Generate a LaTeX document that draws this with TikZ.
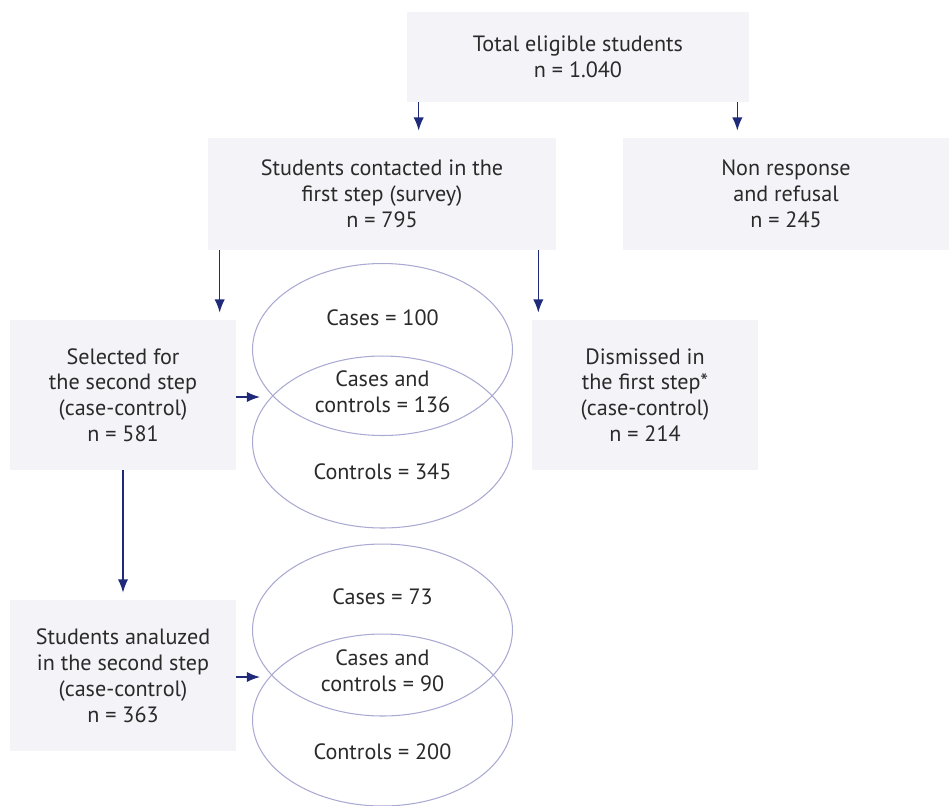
\documentclass[tikz,border=0pt]{standalone}
\usepackage{fontspec}
\setmainfont{PT Sans}
\usepackage{xcolor}
\usetikzlibrary{arrows.meta,positioning,shapes.geometric}
\definecolor{boxfill}{HTML}{F3F3F8}
\definecolor{navy}{HTML}{1F2A7A}
\definecolor{lavender}{HTML}{A9A9D2}
\definecolor{ink}{HTML}{2A2A2A}

\begin{document}
\begin{tikzpicture}[
    x=0.02cm, y=-0.02cm,
    every node/.style={text=ink, font=\fontsize{12.6}{14.7}\selectfont, align=center},
    stage/.style={fill=boxfill, inner sep=0pt},
    venn/.style={ellipse, draw=lavender, line width=0.6pt, minimum width=5.2cm, minimum height=3.44cm, inner sep=0pt},
    arr/.style={draw=navy, line width=0.8pt, -{Latex[length=7.5pt,width=5.8pt]}}
]
\useasboundingbox (0,0) rectangle (949,805);

\node[stage, minimum width=6.84cm, minimum height=1.8cm] (total) at (578,57) {Total eligible students\\n = 1.040};
\node[stage, minimum width=6.96cm, minimum height=2.24cm] (contacted) at (382,194) {Students contacted in the\\first step (survey)\\n = 795};
\node[stage, minimum width=6.52cm, minimum height=2.24cm] (nonresp) at (786,194) {Non response\\and refusal\\n = 245};
\node[stage, minimum width=4.52cm, minimum height=3cm] (selected) at (123,395) {Selected for\\the second step\\(case-control)\\n = 581};
\node[stage, minimum width=4.52cm, minimum height=3cm] (dismissed) at (645,395) {Dismissed in\\the first step*\\(case-control)\\n = 214};
\node[stage, minimum width=4.52cm, minimum height=3.02cm] (analyzed) at (123,675.5) {Students analuzed\\in the second step\\(case-control)\\n = 363};

% Venn pairs
\node[venn] (casesA) at (382.5,349.5) {};
\node[venn] (controlsA) at (382.5,442) {};
\node (casesAtxt) at (382.5,318) {Cases = 100};
\node (bothAtxt) at (382.5,392) {Cases and\\controls = 136};
\node (controlsAtxt) at (382.5,472) {Controls = 345};

\node[venn] (casesB) at (382.5,630) {};
\node[venn] (controlsB) at (382.5,720) {};
\node (casesBtxt) at (382.5,597) {Cases = 73};
\node (bothBtxt) at (382.5,671) {Cases and\\controls = 90};
\node (controlsBtxt) at (382.5,752) {Controls = 200};

\coordinate (intoA) at (260,397);
\coordinate (intoB) at (260,677);

% Flow
\draw[arr, shorten >=5\pgflinewidth] ([xshift=0.24cm]total.south west) -- ([xshift=0.24cm]total.south west |- contacted.north);
\draw[arr, shorten >=5\pgflinewidth] ([xshift=-0.24cm]total.south east) -- ([xshift=-0.24cm]total.south east |- nonresp.north);
\draw[arr, shorten >=5\pgflinewidth] ([xshift=0.24cm]contacted.south west) -- ([xshift=0.24cm]contacted.south west |- selected.north);
\draw[arr, shorten >=5\pgflinewidth] ([xshift=-0.36cm]contacted.south east) -- ([xshift=-0.36cm]contacted.south east |- dismissed.north);
\draw[arr, shorten >=5\pgflinewidth] (selected.south) -- (analyzed.north);

% Into the pairs
\draw[arr] (selected.east |- intoA) -- (intoA);
\draw[arr] (analyzed.east |- intoB) -- (intoB);

\end{tikzpicture}
\end{document}
